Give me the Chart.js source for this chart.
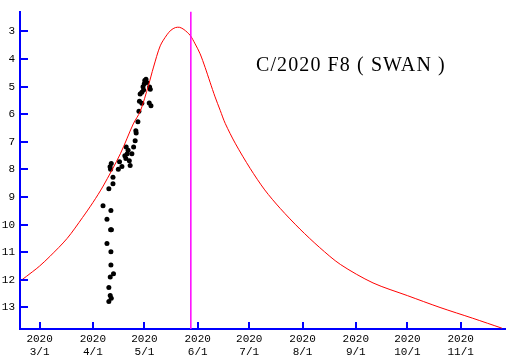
<!DOCTYPE html>
<html>
<head>
<meta charset="utf-8">
<script src="https://cdn.jsdelivr.net/npm/chart.js@4.4.1/dist/chart.umd.min.js"></script>
<style>
  html, body { margin: 0; padding: 0; background: #ffffff; }
  #wrap { width: 513px; height: 361px; }
</style>
</head>
<body>
<div id="wrap"><canvas id="lightCurve" width="513" height="361"></canvas></div>
<script>
// days counted from 2020-03-01
const curveDays = [-11.4, -4, 0, 6, 16, 25, 31, 37, 47, 54.5, 58.6, 63.4, 66.3, 70.2, 74.1, 76.5, 79, 81.5, 84, 87.6,
  90.5, 93.4, 96.3, 99.2, 102.1, 105.1, 108, 114, 122.5, 131, 140, 151.5, 163, 175, 194, 214, 233, 252, 269];
const curveMag = [12.05, 11.7, 11.5, 11.15, 10.5, 9.74, 9.2, 8.6, 7.43, 6.35, 5.89, 4.94, 4.29, 3.52, 3.12, 2.95, 2.86, 2.85, 2.93, 3.14,
  3.45, 3.81, 4.30, 4.84, 5.37, 5.86, 6.33, 7.07, 7.96, 8.74, 9.41, 10.16, 10.83, 11.44, 12.11, 12.57, 13.0, 13.39, 13.75];

const obsDays = [36.9, 41.5, 39.2, 41.3, 41.8, 39.2, 41.5, 41.5, 43.0, 41.1, 40.3, 41.1, 41.7, 40.3, 40.3, 42.7, 42.7,
  41.7, 41.3, 41.0, 46.5, 47.9, 45.8, 50.4, 51.0, 50.2, 52.2, 52.7, 51.5, 49.6, 53.7, 54.7, 55.6, 56.0, 56.2, 57.2, 57.8,
  58.1, 59.5, 58.5, 59.5, 60.5, 60.2, 61.9, 62.4, 60.9, 61.2, 64.0, 64.4, 63.8, 64.8];
const obsMag = [9.31, 9.49, 9.80, 10.18, 10.18, 10.68, 10.98, 11.46, 11.78, 11.90, 12.28, 12.57, 12.67, 12.78, 8.70, 8.52, 8.28,
  7.78, 7.99, 7.90, 7.72, 7.89, 7.99, 7.19, 7.43, 7.60, 7.68, 7.86, 7.30, 7.50, 7.43, 7.19, 6.96, 6.60, 6.68, 6.27, 5.89,
  5.53, 5.60, 5.27, 5.20, 5.12, 5.00, 4.73, 4.85, 4.89, 4.78, 5.01, 5.09, 5.59, 5.69];

const monthDays = [0, 31, 61, 92, 122, 153, 184, 214, 245];
const monthLabels = ["3/1", "4/1", "5/1", "6/1", "7/1", "8/1", "9/1", "10/1", "11/1"];
const magTicks = [3, 4, 5, 6, 7, 8, 9, 10, 11, 12, 13];
const markerDay = 88;
const chartTitle = "C/2020 F8 ( SWAN )";

const dayMin = -11.4;
const dayMax = 270.8;
const magTop = 2.28;
const magBottom = 13.78;

function toPoints(xs, ys) {
  return xs.map(function (x, i) {
    return { x: x, y: ys[i] };
  });
}

// tick marks on the inside of both axes, plus the title
const insideTicks = {
  id: "insideTicks",
  afterDraw: function (chart) {
    const ctx = chart.ctx;
    const area = chart.chartArea;
    const xs = chart.scales.x;
    const ys = chart.scales.y;
    ctx.save();
    ctx.strokeStyle = "#0000ff";
    ctx.lineWidth = 2;
    ctx.beginPath();
    magTicks.forEach(function (m) {
      const py = Math.round(ys.getPixelForValue(m));
      ctx.moveTo(area.left, py);
      ctx.lineTo(area.left + 8, py);
    });
    monthDays.forEach(function (d) {
      const px = Math.round(xs.getPixelForValue(d));
      ctx.moveTo(px, area.bottom);
      ctx.lineTo(px, area.bottom - 7);
    });
    ctx.stroke();

    ctx.fillStyle = "#000000";
    ctx.font = "20px 'Liberation Serif', 'Times New Roman', serif";
    ctx.letterSpacing = "1.1px";
    ctx.textBaseline = "alphabetic";
    ctx.textAlign = "left";
    ctx.fillText(chartTitle, 256, 71);
    ctx.restore();
  },
};

function drawLightCurve() {
  const ctx = document.getElementById("lightCurve").getContext("2d");

  new Chart(ctx, {
    type: "scatter",
    data: {
      datasets: [
        {
          label: "marker",
          data: toPoints([markerDay, markerDay], [magTop, magBottom]),
          showLine: true,
          borderColor: "#ff00ff",
          borderWidth: 1.5,
          pointRadius: 0,
        },
        {
          label: "curve",
          data: toPoints(curveDays, curveMag),
          showLine: true,
          borderColor: "#ff0000",
          borderWidth: 1,
          tension: 0.3,
          pointRadius: 0,
        },
        {
          label: "obs",
          data: toPoints(obsDays, obsMag),
          showLine: false,
          pointRadius: 2.5,
          pointBackgroundColor: "#000000",
          pointBorderColor: "#000000",
          pointBorderWidth: 0,
        },
      ],
    },
    options: {
      responsive: false,
      devicePixelRatio: 1,
      animation: false,
      events: [],
      layout: {
        padding: { left: 0, top: 5, right: 8, bottom: 0 },
      },
      plugins: {
        legend: { display: false },
        tooltip: { enabled: false },
      },
      scales: {
        x: {
          type: "linear",
          min: dayMin,
          max: dayMax,
          afterBuildTicks: function (scale) {
            scale.ticks = monthDays.map(function (v) {
              return { value: v };
            });
          },
          afterFit: function (scale) {
            scale.height = 32;
          },
          grid: { display: false, drawTicks: false },
          border: { display: true, color: "#0000ff", width: 2 },
          ticks: {
            autoSkip: false,
            maxRotation: 0,
            padding: 3,
            color: "#000000",
            font: { family: "'Liberation Mono', 'DejaVu Sans Mono', monospace", size: 11, lineHeight: 1.2 },
            callback: function (value) {
              const i = monthDays.indexOf(value);
              return i >= 0 ? ["2020", monthLabels[i]] : "";
            },
          },
        },
        y: {
          type: "linear",
          reverse: true,
          min: magTop,
          max: magBottom,
          afterBuildTicks: function (scale) {
            scale.ticks = magTicks.map(function (v) {
              return { value: v };
            });
          },
          afterFit: function (scale) {
            scale.width = 20;
          },
          grid: { display: false, drawTicks: false },
          border: { display: true, color: "#0000ff", width: 2 },
          ticks: {
            autoSkip: false,
            padding: 5,
            color: "#000000",
            font: { family: "'Liberation Mono', 'DejaVu Sans Mono', monospace", size: 11 },
          },
        },
      },
    },
    plugins: [insideTicks],
  });
}

drawLightCurve();
</script>
</body>
</html>
